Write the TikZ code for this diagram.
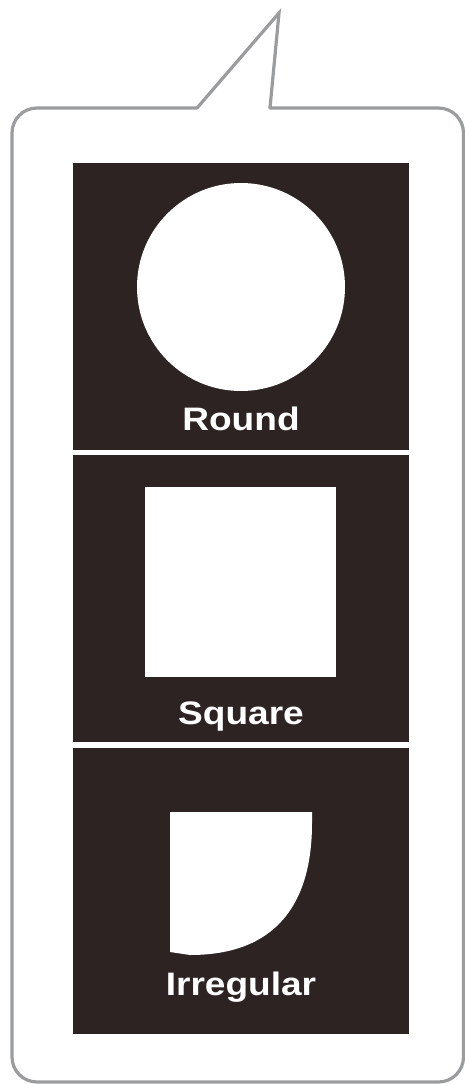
\documentclass[tikz,border=0pt]{standalone}
\usepackage{fontspec}
\setmainfont{Liberation Sans}
\definecolor{panel}{HTML}{2E2323}
\definecolor{bubble}{HTML}{9B9C9E}
\begin{document}
\begin{tikzpicture}[x=1pt,y=-1pt,
  bubbleline/.style={draw=bubble,line width=3.2pt,line cap=round,line join=miter},
  panelbox/.style={fill=panel,draw=none,minimum width=336pt,inner sep=0pt,outer sep=0pt},
  label/.style={text=white,font=\bfseries\fontsize{32.5}{38}\selectfont,xscale=1.14,anchor=base,inner sep=0pt},
  shapefill/.style={fill=white,draw=none}]
\useasboundingbox (0,0) rectangle (464,1084);
% speech bubble
\draw[bubbleline,rounded corners=25pt]
  (197,108) -- (12,108) -- (12,1082) -- (463.5,1082) -- (463.5,108) -- (270,108);
\draw[bubbleline] (197,108) -- (279,13) -- (270,108);
% panels
\node[panelbox,minimum height=287pt] (p1) at (241,306.5) {};
\node[panelbox,minimum height=287pt] (p2) at (241,598.5) {};
\node[panelbox,minimum height=286pt] (p3) at (241,891) {};
% shapes
\node[circle,shapefill,minimum size=208pt,inner sep=0pt] (circ) at (241,287) {};
\node[rectangle,shapefill,minimum width=191pt,minimum height=190pt,inner sep=0pt] (sq) at (240.5,582) {};
\fill[white] (170,812) -- (312,812) -- (312,823)
  .. controls (312,905) and (275,955) .. (190,955) -- (170,952) -- cycle;
% labels
\node[label] (t1) at (241,430) {Round};
\node[label] (t2) at (241,724) {Square};
\node[label] (t3) at (241,995) {Irregular};
\end{tikzpicture}
\end{document}
